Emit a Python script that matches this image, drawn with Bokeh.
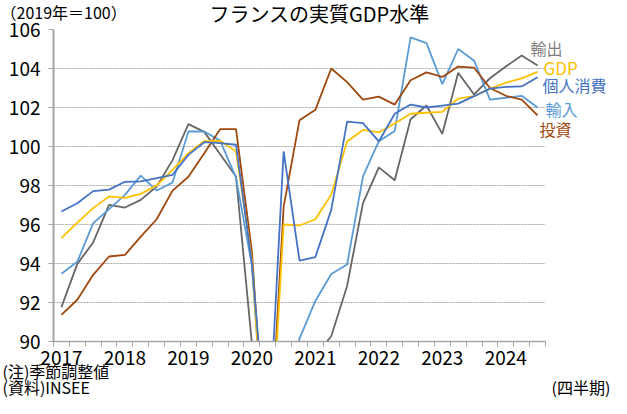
from bokeh.plotting import figure
from bokeh.models import Range1d, FixedTicker, Label
from bokeh.layouts import column
from bokeh.core.properties import value
from bokeh.embed import file_html
from bokeh.resources import INLINE

quarters = [f"{y}Q{q}" for y in range(2017, 2025) for q in range(1, 5)][:31]
year_labels = ["2017", "2018", "2019", "2020", "2021", "2022", "2023", "2024"]

gdp = [95.3, 96.1, 96.84, 97.44, 97.37, 97.57, 98.0, 98.8,
       99.66, 100.28, 100.29, 99.75, 94.2, 81.8, 96.0, 95.95,
       96.27, 97.52, 100.26, 100.85, 100.72, 101.18, 101.68, 101.73,
       101.78, 102.46, 102.58, 102.97, 103.27, 103.49, 103.83]
consumption = [96.67, 97.09, 97.71, 97.79, 98.19, 98.21, 98.38, 98.55,
               99.57, 100.22, 100.17, 100.09, 94.0, 84.3, 99.75, 94.15,
               94.33, 96.75, 101.28, 101.2, 100.26, 101.68, 102.15, 102.0,
               102.1, 102.2, 102.58, 102.97, 103.06, 103.08, 103.55]
investment = [91.37, 92.14, 93.42, 94.36, 94.44, 95.38, 96.27, 97.74,
              98.45, 99.65, 100.89, 100.89, 94.62, 82.5, 96.9, 101.35,
              101.88, 104.0, 103.3, 102.4, 102.56, 102.15, 103.4, 103.8,
              103.57, 104.1, 104.04, 103.0, 102.6, 102.4, 101.6]
exports = [91.76, 93.98, 95.08, 97.01, 96.87, 97.26, 97.95, 99.3,
           101.15, 100.75, 99.6, 98.46, 89.9, 75.5, 83.0, 86.5,
           89.3, 90.27, 92.85, 97.1, 98.93, 98.27, 101.4, 102.1,
           100.65, 103.78, 102.67, 103.5, 104.1, 104.67, 104.15]
imports = [93.47, 94.09, 96.07, 96.79, 97.52, 98.51, 97.74, 98.15,
           100.77, 100.77, 100.3, 98.4, 93.9, 82.5, 87.0, 90.15,
           92.08, 93.46, 93.95, 98.47, 100.27, 100.8, 105.6, 105.3,
           103.2, 105.0, 104.4, 102.4, 102.5, 102.6, 102.0]

series_names = ["輸出", "GDP", "個人消費", "輸入", "投資"]
title_text = "フランスの実質GDP水準"
unit_text = "（2019年＝100）"
notes = ["(注)季節調整値", "(資料)INSEE"]
freq_text = "(四半期)"

FONT = "Noto Sans CJK JP"
W = 611
N = len(quarters)
xs = list(range(N))


def no_align(f):
    try:
        f.frame_align = False
    except Exception:
        pass


def text_fig(h):
    f = figure(width=W, height=h, output_backend="svg", toolbar_location=None,
               x_range=Range1d(0, W), y_range=Range1d(h, 0),
               min_border=0, x_axis_location=None, y_axis_location=None)
    f.grid.visible = False
    f.outline_line_color = None
    f.border_fill_color = None
    f.background_fill_color = None
    no_align(f)
    return f


# ---- header (y 0..29) ----
HH = 29
head = text_fig(HH)
head.text(x=[319], y=[13], text=[title_text], text_font=value(FONT),
          text_font_size=value("20px"), text_align="center",
          text_baseline="middle", text_color="#000000")
head.text(x=[0], y=[11.5], text=[unit_text], text_font=value(FONT),
          text_font_size=value("16px"), text_align="left",
          text_baseline="middle", text_color="#000000")

# ---- main chart (y 15..369; frame 29..341, x 53..611) ----
FL, TOP, FB = 53, 14, 341
frame_w = W - FL
q_px = 492 / N
x_end = -0.5 + frame_w / q_px

p = figure(width=W, height=TOP + 312 + 28, output_backend="svg", toolbar_location=None,
           x_range=Range1d(-0.5, x_end), y_range=Range1d(90, 106),
           min_border_left=FL, min_border_right=0,
           min_border_top=TOP, min_border_bottom=28)
no_align(p)
p.margin = (-TOP, 0, 0, 0)
p.outline_line_color = None
p.border_fill_color = None
p.background_fill_color = "white"

p.line(xs, exports, line_color="#666666", line_width=1.8)
p.line(xs, imports, line_color="#5B9BD5", line_width=1.8)
p.line(xs, investment, line_color="#9E480E", line_width=1.8)
p.line(xs, gdp, line_color="#FFC000", line_width=1.8)
p.line(xs, consumption, line_color="#4472C4", line_width=1.8)

major = [quarters.index(f"{y}Q1") for y in year_labels]
minor = [i - 0.5 for i in range(N + 1)]
p.xaxis.ticker = FixedTicker(ticks=major, minor_ticks=minor)
p.xaxis.bounds = (-0.5, N - 0.5)
p.xaxis.major_label_overrides = {m: y for m, y in zip(major, year_labels)}
p.xaxis.major_tick_out = 0
p.xaxis.major_tick_in = 0
p.xaxis.minor_tick_out = 5
p.xaxis.minor_tick_in = 0
p.xaxis.minor_tick_line_color = "#A6A6A6"
p.xaxis.axis_line_color = "#A6A6A6"
p.xaxis.axis_line_width = 1.5
p.xaxis.major_label_standoff = 4
p.xaxis.major_label_text_font = FONT
p.xaxis.major_label_text_font_size = "19px"
p.xaxis.major_label_text_color = "#000000"
p.xgrid.grid_line_color = None

p.yaxis.ticker = FixedTicker(ticks=list(range(90, 107, 2)))
p.yaxis.major_tick_out = 5
p.yaxis.major_tick_in = 0
p.yaxis.minor_tick_line_color = None
p.yaxis.major_tick_line_color = "#A6A6A6"
p.yaxis.axis_line_color = "#A6A6A6"
p.yaxis.axis_line_width = 2
p.yaxis.major_label_standoff = 8
p.yaxis.major_label_text_font = FONT
p.yaxis.major_label_text_font_size = "19px"
p.yaxis.major_label_text_color = "#000000"
p.ygrid.grid_line_color = "#A6A6A6"
p.ygrid.grid_line_dash = "2 1"
p.ygrid.grid_line_width = 1
try:
    p.ygrid.cross_bounds = (-0.5, N - 0.5)
except Exception:
    pass

# series labels at the right end (picture coords -> frame screen coords)
colors = ["#7F7F7F", "#FFC000", "#4472C4", "#5B9BD5", "#9E480E"]
pos = [(530, 47), (543, 67), (542, 84.5), (545, 108), (539, 128.5)]
sizes = ["16px", "17px", "16px", "16px", "16px"]
for name, c, (rx, ry), fs in zip(series_names, colors, pos, sizes):
    p.add_layout(Label(x=rx - FL, y=FB - ry, x_units="screen", y_units="screen",
                       text=name, text_color=c, text_font=FONT,
                       text_font_size=fs, text_align="left",
                       text_baseline="middle"))

# ---- footer (y 358..398) ----
FH = 40
foot = text_fig(FH)
foot.margin = (-11, 0, 0, 0)
foot.text(x=[2, 2], y=[12, 28], text=notes, text_font=value(FONT),
          text_font_size=value("16px"), text_align="left",
          text_baseline="middle", text_color="#000000")
foot.text(x=[551], y=[28], text=[freq_text], text_font=value(FONT),
          text_font_size=value("16px"), text_align="left",
          text_baseline="middle", text_color="#000000")

layout = column(head, p, foot, spacing=0)
open("out.html", "w").write(file_html(layout, INLINE))
